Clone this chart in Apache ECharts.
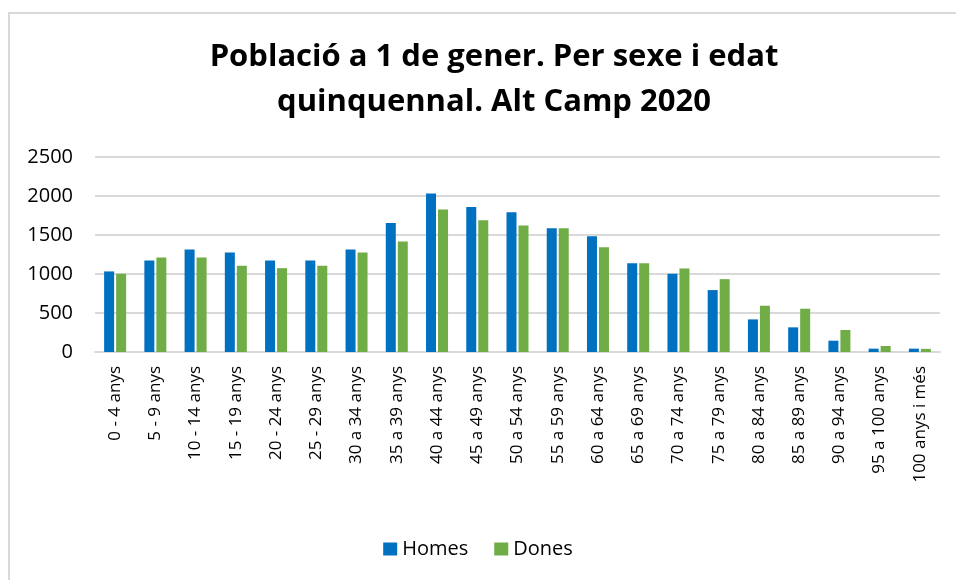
<!DOCTYPE html>
<html>
<head>
<meta charset="utf-8">
<title>Població a 1 de gener. Alt Camp 2020</title>
<script src="https://cdn.jsdelivr.net/npm/echarts@6/dist/echarts.min.js"></script>
<style>
    html, body {margin: 0; padding: 0; background: #fff;}
    #chart {width: 956px; height: 580px;}
</style>
</head>
<body>
<div id="chart"></div>
<script>
// dades llegides del gràfic
var categories = ['0 - 4 anys', '5 - 9 anys', '10 - 14 anys', '15 - 19 anys', '20 - 24 anys', '25 - 29 anys',
    '30 a 34 anys', '35 a 39 anys', '40 a 44 anys', '45 a 49 anys', '50 a 54 anys', '55 a 59 anys',
    '60 a 64 anys', '65 a 69 anys', '70 a 74 anys', '75 a 79 anys', '80 a 84 anys', '85 a 89 anys',
    '90 a 94 anys', '95 a 100 anys', '100 anys i més'];
var homes = [1033, 1173, 1314, 1276, 1173, 1173, 1314, 1655, 2031, 1860, 1792, 1587, 1485, 1139, 1003, 794, 418, 316, 145, 43, 43];
var dones = [1003, 1212, 1212, 1105, 1075, 1105, 1276, 1417, 1826, 1690, 1621, 1587, 1344, 1139, 1071, 934, 593, 555, 282, 77, 40];
var yTicks = [0, 500, 1000, 1500, 2000, 2500];

var myChart = echarts.init(document.getElementById('chart'));

var option = {
    animation: false,
    backgroundColor: '#fff',
    textStyle: {fontFamily: 'Open Sans', color: '#000'},
    graphic: [
        {
            type: 'rect',
            shape: {x: 9, y: 13, width: 1000, height: 1000},
            style: {fill: 'none', stroke: '#d9d9d9', lineWidth: 2},
            silent: true
        }
    ],
    title: {
        text: 'Població a 1 de gener. Per sexe i edat\nquinquennal. Alt Camp 2020',
        left: 489,
        textAlign: 'center',
        top: 30,
        textStyle: {
            fontFamily: 'Open Sans',
            fontWeight: 'bold',
            fontSize: 31,
            lineHeight: 45,
            color: '#000'
        }
    },
    legend: {
        bottom: 16,
        left: 'center',
        itemWidth: 14,
        itemHeight: 13,
        itemGap: 26,
        itemTextGap: 6,
        icon: 'rect',
        textStyle: {fontSize: 20, color: '#000', fontFamily: 'Open Sans'},
        data: ['Homes', 'Dones']
    },
    grid: {
        left: 95,
        right: 16,
        top: 157,
        bottom: 228,
        containLabel: false
    },
    xAxis: {
        type: 'category',
        data: categories,
        axisTick: {show: false},
        axisLine: {lineStyle: {color: '#d9d9d9', width: 2}},
        axisLabel: {
            interval: 0,
            rotate: 90,
            margin: 14,
            fontSize: 17,
            color: '#000',
            fontFamily: 'Open Sans'
        }
    },
    yAxis: {
        type: 'value',
        min: yTicks[0],
        max: yTicks[yTicks.length - 1],
        interval: yTicks[1] - yTicks[0],
        axisLine: {show: false},
        axisTick: {show: false},
        axisLabel: {
            margin: 22,
            fontSize: 20,
            color: '#000',
            fontFamily: 'Open Sans',
            formatter: function (v) { return String(v); }
        },
        splitLine: {lineStyle: {color: '#d9d9d9', width: 2}}
    },
    series: [
        {
            name: 'Homes',
            type: 'bar',
            data: homes,
            barWidth: 10,
            barGap: '20%',
            itemStyle: {color: '#0070c0'}
        },
        {
            name: 'Dones',
            type: 'bar',
            data: dones,
            barWidth: 10,
            itemStyle: {color: '#70ad47'}
        }
    ]
};

myChart.setOption(option);
</script>
</body>
</html>
